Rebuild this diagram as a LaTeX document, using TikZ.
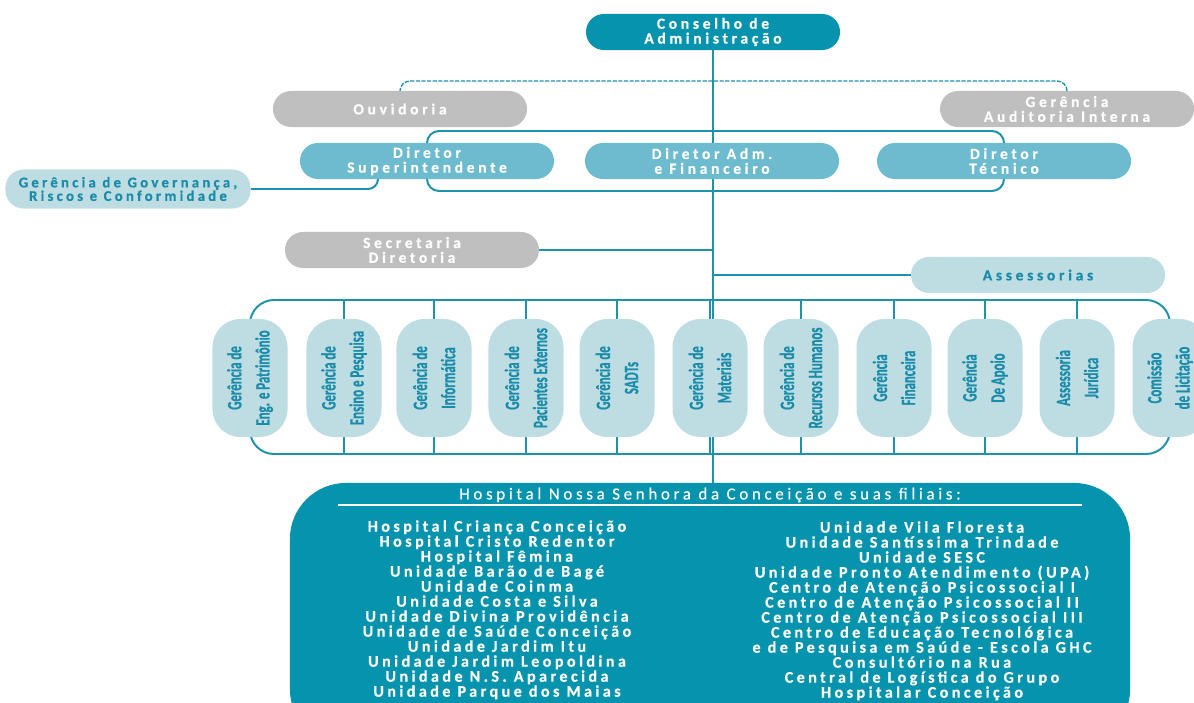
\documentclass[tikz,border=0pt]{standalone}
\usepackage{fontspec}
\setmainfont{Carlito}
\newfontfamily\orgfont[LetterSpace=24,FakeBold=0.6]{Carlito}
\newfontfamily\govfont[LetterSpace=22,FakeBold=0.6]{Carlito}
\newfontfamily\headfont[LetterSpace=22,FakeBold=0.4]{Carlito}
\newfontfamily\hospfont[LetterSpace=21,FakeBold=0.5]{Carlito}
\newfontfamily\condfont[FakeStretch=0.63,FakeBold=0.5]{Carlito}
\usetikzlibrary{backgrounds}
\definecolor{ghcdark} {HTML}{0593AE}
\definecolor{ghcmid}  {HTML}{6CBBCF}
\definecolor{ghclight}{HTML}{BDDDE3}
\definecolor{ghcgray} {HTML}{BFBFBF}
\definecolor{ghcline} {HTML}{1C92AE}
\definecolor{ghctext} {HTML}{1A8BA9}
\tikzset{
  pill/.style     ={rounded corners=0.45cm, minimum width=6.35cm, minimum height=0.9cm,
                    inner sep=0pt, align=center, text=white,
                    font=\orgfont\bfseries\fontsize{11}{10.5}\selectfont},
  darkpill/.style ={pill, fill=ghcdark},
  dirpill/.style  ={pill, fill=ghcmid},
  graypill/.style ={pill, fill=ghcgray},
  lightpill/.style={pill, fill=ghclight, text=ghctext},
  gerbox/.style   ={rotate=90, fill=ghclight, text=ghctext, rounded corners=0.7cm,
                    minimum width=2.95cm, minimum height=1.875cm, inner sep=0pt, align=center,
                    font=\condfont\bfseries\fontsize{14.5}{20}\selectfont},
  hospbox/.style  ={fill=ghcdark, rounded corners=1.4cm, minimum width=21cm,
                    minimum height=6.55cm, inner sep=0pt},
  hosptext/.style ={text=white, align=center, inner sep=0pt,
                    font=\hospfont\bfseries\fontsize{11.5}{10.67}\selectfont},
  conn/.style     ={draw=ghcline, line width=1.4pt},
  trunk/.style    ={conn, line width=2pt},
  dashconn/.style ={conn, line width=1pt, dash pattern=on 3pt off 1pt},
}
\begin{document}
\begin{tikzpicture}[x=0.025cm,y=-0.025cm]
    \clip (0,0) rectangle (1194,702);

    % top of the chart
    \node[darkpill]  (cons) at (713,32)  {Conselho de\\Administração};
    \node[graypill]  (ouv)  at (400,109) {Ouvidoria};
    \node[graypill]  (aud)  at (1067,109) {Gerência\\Auditoria Interna};
    \node[dirpill]   (supt) at (427,161) {Diretor\\Superintendente};
    \node[dirpill]   (adm)  at (712,161) {Diretor Adm.\\e Financeiro};
    \node[dirpill]   (tec)  at (1004,161) {Diretor\\Técnico};
    \node[lightpill,minimum width=6.125cm,minimum height=0.975cm,
          font=\govfont\bfseries\fontsize{10.5}{9.6}\selectfont]
                     (gov)  at (128,189) {Gerência de Governança,\\Riscos e Conformidade};
    \node[graypill]  (sec)  at (412,250) {Secretaria\\Diretoria};
    \node[lightpill] (ass)  at (1038,275) {Assessorias};

    \coordinate (dashy)  at (713,81);
    \coordinate (dirtop) at (713,131);
    \coordinate (dirbot) at (713,191);
    \coordinate (supgov) at (378,165);
    \coordinate (rowtop) at (713,300);
    \coordinate (rowbot) at (713,454);

    % gerencias
    \node[gerbox] (g1)  at (250,378)  {Gerência de\\Eng. e Patrimônio};
    \node[gerbox] (g2)  at (344,378)  {Gerência de\\Ensino e Pesquisa};
    \node[gerbox] (g3)  at (434,378)  {Gerência de\\Informática};
    \node[gerbox] (g4)  at (526,378)  {Gerência de\\Pacientes Externos};
    \node[gerbox] (g5)  at (617,378)  {Gerência de\\SADTs};
    \node[gerbox] (g6)  at (710,378)  {Gerência de\\Materiais};
    \node[gerbox] (g7)  at (801,378)  {Gerência de\\Recursos Humanos};
    \node[gerbox] (g8)  at (894,378)  {Gerência\\Financeira};
    \node[gerbox] (g9)  at (985,378)  {Gerência\\De Apoio};
    \node[gerbox] (g10) at (1077,378) {Assessoria\\Jurídica};
    \node[gerbox] (g11) at (1170,378) {Comissão\\de Licitação};

    % hospital and filiais
    \node[hospbox] (hosp) at (710,614) {};
    \node[hosptext,font=\headfont\fontsize{12}{12}\selectfont]
                   (hhead) at (710,495) {Hospital Nossa Senhora da Conceição e suas filiais:};
    \draw[white, line width=1pt] (338,505) -- (1082,505);
    \node[hosptext,anchor=north] (hleft) at (497,520)
      {Hospital Criança Conceição\\Hospital Cristo Redentor\\Hospital Fêmina\\
       Unidade Barão de Bagé\\Unidade Coinma\\Unidade Costa e Silva\\
       Unidade Divina Providência\\Unidade de Saúde Conceição\\Unidade Jardim Itu\\
       Unidade Jardim Leopoldina\\Unidade N.S. Aparecida\\Unidade Parque dos Maias};
    \node[hosptext,anchor=north] (hright) at (922,521)
      {Unidade Vila Floresta\\Unidade Santíssima Trindade\\Unidade SESC\\
       Unidade Pronto Atendimento (UPA)\\Centro de Atenção Psicossocial I\\
       Centro de Atenção Psicossocial II\\Centro de Atenção Psicossocial III\\
       Centro de Educação Tecnológica\\e de Pesquisa em Saúde - Escola GHC\\
       Consultório na Rua\\Central de Logística do Grupo\\Hospitalar Conceição};

    % connectors
    \begin{scope}[on background layer]
      \draw[trunk] (cons.center) -- (cons.center |- hosp.north);
      \draw[dashconn, rounded corners=0.25cm] (ouv.center) |- (dashy) -| (aud.center);
      \draw[conn, rounded corners=0.3cm] (supt.center) |- (dirtop) -| (tec.center);
      \draw[conn, rounded corners=0.3cm] (supt.center) |- (dirbot) -| (tec.center);
      \draw[conn, rounded corners=0.25cm] (supgov) |- (gov.east);
      \draw[conn] (sec.east) -- (sec.east -| cons.center);
      \draw[conn] (ass.west -| cons.center) -- (ass.west);
      \draw[conn, rounded corners=0.6cm] (g1.center) |- (rowtop) -| (g11.center);
      \draw[conn, rounded corners=0.6cm] (g1.center) |- (rowbot) -| (g11.center);
      \foreach \i in {2,...,10}
        \draw[trunk] (g\i.center |- rowtop) -- (g\i.center |- rowbot);
    \end{scope}
\end{tikzpicture}
\end{document}
